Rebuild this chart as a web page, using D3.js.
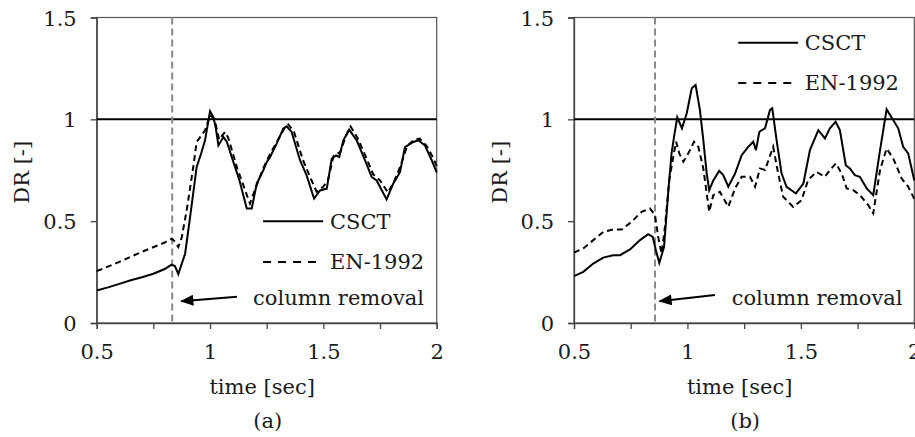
<!DOCTYPE html>
<html><head><meta charset="utf-8">
<script src="https://cdn.jsdelivr.net/npm/d3@7"></script>
<style>
html,body{margin:0;padding:0;background:#fff;}
svg{display:block;}
text{font-family:"DejaVu Serif",serif;fill:#1a1a1a;}
</style></head>
<body><svg id="chart" width="915" height="437"></svg>
<script>
// ---------- data ----------
const xTicks = [0.5, 0.75, 1, 1.25, 1.5, 1.75, 2];
const xTickLabels = ["0.5", "", "1", "", "1.5", "", "2"];
const yTicks = [0, 0.5, 1, 1.5];
const yTickLabels = ["0", "0.5", "1", "1.5"];
const seriesNames = ["CSCT", "EN-1992"];
const panelLabels = ["(a)", "(b)"];
const removalTime = [0.833, 0.857];
const limitDR = 1;

const csctA = [
 [0.50,0.160],[0.55,0.175],[0.60,0.192],[0.65,0.210],[0.70,0.225],[0.75,0.242],[0.80,0.265],[0.83,0.287],
 [0.845,0.280],[0.86,0.240],[0.875,0.290],[0.89,0.340],[0.912,0.520],[0.941,0.766],[0.96,0.830],[0.978,0.897],
 [1.00,1.040],[1.015,1.010],[1.025,0.960],[1.037,0.872],[1.059,0.913],[1.074,0.890],[1.10,0.800],[1.13,0.700],
 [1.162,0.562],[1.184,0.562],[1.206,0.684],[1.235,0.750],[1.25,0.790],[1.265,0.815],[1.294,0.881],[1.323,0.954],
 [1.338,0.966],[1.36,0.938],[1.397,0.799],[1.426,0.725],[1.459,0.611],[1.485,0.651],[1.515,0.660],[1.537,0.807],
 [1.556,0.823],[1.57,0.815],[1.588,0.897],[1.614,0.949],[1.647,0.897],[1.684,0.799],[1.713,0.717],[1.735,0.700],
 [1.779,0.607],[1.808,0.684],[1.838,0.741],[1.86,0.864],[1.897,0.889],[1.919,0.897],[1.948,0.872],[1.978,0.799],[2.00,0.740]
];
const enA = [
 [0.50,0.255],[0.60,0.300],[0.70,0.350],[0.80,0.395],[0.831,0.414],[0.845,0.400],[0.86,0.373],[0.875,0.420],
 [0.897,0.553],[0.926,0.766],[0.941,0.889],[0.978,0.946],[1.00,1.020],[1.02,1.000],[1.04,0.900],[1.066,0.938],
 [1.08,0.910],[1.12,0.760],[1.176,0.586],[1.20,0.660],[1.235,0.760],[1.265,0.830],[1.30,0.900],[1.33,0.960],
 [1.345,0.975],[1.37,0.940],[1.41,0.800],[1.44,0.720],[1.47,0.645],[1.50,0.670],[1.52,0.700],[1.545,0.820],
 [1.575,0.840],[1.60,0.920],[1.62,0.965],[1.65,0.910],[1.69,0.810],[1.72,0.730],[1.75,0.700],[1.785,0.640],
 [1.81,0.690],[1.84,0.770],[1.87,0.870],[1.90,0.900],[1.925,0.905],[1.955,0.870],[1.985,0.810],[2.00,0.770]
];
const csctB = [
 [0.50,0.230],[0.541,0.251],[0.585,0.292],[0.629,0.321],[0.673,0.333],[0.703,0.333],[0.747,0.361],[0.791,0.407],
 [0.827,0.436],[0.847,0.423],[0.861,0.357],[0.876,0.295],[0.897,0.374],[0.916,0.652],[0.93,0.833],[0.941,0.914],
 [0.955,1.010],[0.976,0.956],[0.997,1.030],[1.019,1.152],[1.036,1.169],[1.055,1.046],[1.07,0.898],[1.085,0.734],
 [1.096,0.652],[1.114,0.700],[1.14,0.747],[1.158,0.726],[1.18,0.669],[1.21,0.734],[1.239,0.824],[1.268,0.865],
 [1.29,0.890],[1.302,0.849],[1.317,0.939],[1.342,0.956],[1.364,1.046],[1.374,1.054],[1.393,0.898],[1.415,0.734],
 [1.437,0.669],[1.478,0.636],[1.511,0.685],[1.54,0.849],[1.577,0.947],[1.606,0.906],[1.628,0.956],[1.653,0.988],
 [1.672,0.947],[1.698,0.775],[1.716,0.759],[1.738,0.726],[1.76,0.718],[1.79,0.661],[1.819,0.628],[1.849,0.849],
 [1.878,1.049],[1.907,0.997],[1.929,0.956],[1.951,0.865],[1.973,0.833],[2.00,0.700]
];
const enB = [
 [0.50,0.346],[0.541,0.366],[0.585,0.407],[0.629,0.447],[0.673,0.459],[0.71,0.459],[0.754,0.497],[0.798,0.546],
 [0.835,0.562],[0.857,0.530],[0.871,0.423],[0.886,0.341],[0.901,0.472],[0.92,0.702],[0.935,0.800],[0.95,0.890],
 [0.964,0.833],[0.982,0.792],[1.004,0.833],[1.029,0.890],[1.048,0.865],[1.07,0.759],[1.085,0.636],[1.096,0.546],
 [1.114,0.628],[1.143,0.644],[1.18,0.570],[1.21,0.661],[1.239,0.718],[1.276,0.718],[1.298,0.669],[1.32,0.759],
 [1.342,0.751],[1.378,0.865],[1.40,0.734],[1.422,0.620],[1.466,0.570],[1.503,0.603],[1.532,0.702],[1.569,0.742],
 [1.606,0.718],[1.628,0.751],[1.655,0.784],[1.68,0.734],[1.702,0.661],[1.731,0.652],[1.76,0.628],[1.797,0.579],
 [1.819,0.538],[1.849,0.751],[1.878,0.857],[1.907,0.808],[1.944,0.710],[1.973,0.669],[2.00,0.610]
];

// ---------- layout ----------
const FS = 21;
const panels = [
  {left:96.7, right:436.7, top:17.5, bottom:323, csct:csctA, en:enA, removal:removalTime[0], label:panelLabels[0],
   legend:{x0:1.234, x1:1.499, ySolid:0.50, yDash:0.30, tx:1.529},
   arrow:{x0:1.119, y0:0.129, x1:0.873, y1:0.107}, note:{x:1.19, y:0.088}},
  {left:574, right:914.3, top:17.5, bottom:323, csct:csctB, en:enB, removal:removalTime[1], label:panelLabels[1],
   legend:{x0:1.224, x1:1.488, ySolid:1.376, yDash:1.179, tx:1.517},
   arrow:{x0:1.121, y0:0.137, x1:0.877, y1:0.107}, note:{x:1.195, y:0.088}}
];

const svg = d3.select("#chart");
svg.append("rect").attr("width",915).attr("height",437).attr("fill","#fff");
const defs = svg.append("defs");
defs.append("marker").attr("id","ah").attr("viewBox","0 0 12 10").attr("refX",11).attr("refY",5)
  .attr("markerWidth",7).attr("markerHeight",5.5).attr("markerUnits","strokeWidth").attr("orient","auto")
  .append("path").attr("d","M0,0 L12,5 L0,10 Z").attr("fill","#000");

panels.forEach((p,i) => {
  const x = d3.scaleLinear().domain([0.5,2]).range([p.left,p.right]);
  const y = d3.scaleLinear().domain([0,1.5]).range([p.bottom,p.top]);
  const g = svg.append("g");

  // box (top/right border)
  g.append("rect").attr("x",p.left).attr("y",p.top).attr("width",p.right-p.left).attr("height",p.bottom-p.top)
    .attr("fill","none").attr("stroke","#555").attr("stroke-width",1.2);

  // axes
  const xa = g.append("g").attr("transform",`translate(0,${p.bottom})`)
    .call(d3.axisBottom(x).tickValues(xTicks).tickSizeOuter(0).tickSize(6)
      .tickFormat((d,k)=>xTickLabels[k]));
  const ya = g.append("g").attr("transform",`translate(${p.left},0)`)
    .call(d3.axisLeft(y).tickValues(yTicks).tickSizeOuter(0).tickSize(6)
      .tickFormat((d,k)=>yTickLabels[k]));
  [xa,ya].forEach(a=>{
    a.select(".domain").attr("stroke","#444").attr("stroke-width",1.3);
    a.selectAll(".tick line").attr("stroke","#444").attr("stroke-width",1.3);
    a.selectAll("text").attr("font-family","DejaVu Serif").attr("font-size",FS).attr("fill","#1a1a1a");
  });
  xa.selectAll("text").attr("y",35.5).attr("dy",0);
  ya.selectAll("text").attr("x",-20).attr("dy","0.36em");

  // limit line at DR = 1
  g.append("line").attr("x1",x(0.5)).attr("x2",x(2)).attr("y1",y(limitDR)).attr("y2",y(limitDR))
    .attr("stroke","#000").attr("stroke-width",2);

  // column removal marker
  g.append("line").attr("x1",x(p.removal)).attr("x2",x(p.removal)).attr("y1",p.top).attr("y2",p.bottom)
    .attr("stroke","#8a8a8a").attr("stroke-width",2).attr("stroke-dasharray","7,4");

  const line = d3.line().x(d=>x(d[0])).y(d=>y(d[1]));
  g.append("path").datum(p.en).attr("d",line).attr("fill","none").attr("stroke","#000")
    .attr("stroke-width",2).attr("stroke-dasharray","6,4");
  g.append("path").datum(p.csct).attr("d",line).attr("fill","none").attr("stroke","#000")
    .attr("stroke-width",2);

  // legend
  const L = p.legend;
  g.append("line").attr("x1",x(L.x0)).attr("x2",x(L.x1)).attr("y1",y(L.ySolid)).attr("y2",y(L.ySolid))
    .attr("stroke","#000").attr("stroke-width",2);
  g.append("line").attr("x1",x(L.x0)).attr("x2",x(L.x1)-3).attr("y1",y(L.yDash)).attr("y2",y(L.yDash))
    .attr("stroke","#000").attr("stroke-width",2).attr("stroke-dasharray","8,7");
  g.append("text").attr("x",x(L.tx)).attr("y",y(L.ySolid)).attr("dy","0.36em").attr("font-size",FS).text(seriesNames[0]);
  g.append("text").attr("x",x(L.tx)).attr("y",y(L.yDash)).attr("dy","0.36em").attr("font-size",FS).text(seriesNames[1]);

  // annotation
  const A = p.arrow;
  g.append("line").attr("x1",x(A.x0)).attr("y1",y(A.y0)).attr("x2",x(A.x1)).attr("y2",y(A.y1))
    .attr("stroke","#000").attr("stroke-width",2).attr("marker-end","url(#ah)");
  g.append("text").attr("x",x(p.note.x)).attr("y",y(p.note.y)).attr("font-size",FS).text("column removal");

  // axis titles
  const cx = (p.left+p.right)/2;
  g.append("text").attr("x",cx-4.5).attr("y",394).attr("text-anchor","middle").attr("font-size",FS).text("time [sec]");
  g.append("text").attr("transform",`translate(${p.left-75},${(p.top+p.bottom)/2+2}) rotate(-90)`)
    .attr("text-anchor","middle").attr("dy","0.36em").attr("font-size",FS).text("DR [-]");
  g.append("text").attr("x",cx+1).attr("y",428).attr("text-anchor","middle").attr("font-size",FS).text(p.label);
});
</script></body></html>
